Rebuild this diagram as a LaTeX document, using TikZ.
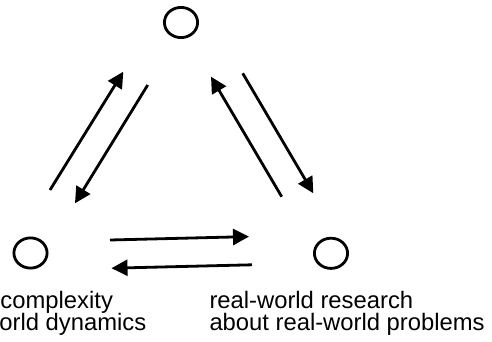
\documentclass[tikz,border=0pt]{standalone}
\usepackage{fontspec}
\setmainfont{Liberation Sans}
\usetikzlibrary{arrows.meta}
\begin{document}
\begin{tikzpicture}[x=1pt,y=-1pt,
  ringline/.style={draw=black, line width=2.8pt},
  flow/.style={draw=black, line width=2.8pt, -{Triangle[length=16pt,width=16pt]}},
  lbl/.style={anchor=base west, inner sep=0pt, font=\fontsize{23.8pt}{22pt}\selectfont}]
\useasboundingbox (0,0) rectangle (492,342);
% circles
\coordinate (top) at (181,22.5);
\coordinate (left) at (30.5,253);
\coordinate (right) at (331,253.3);
\draw[ringline] (top) ellipse [x radius=16.6pt, y radius=15.1pt];
\draw[ringline] (left) ellipse [x radius=16.6pt, y radius=15.1pt];
\draw[ringline] (right) ellipse [x radius=16.6pt, y radius=15.1pt];
% arrow end points
\coordinate (h1s) at (110,240);
\coordinate (h1e) at (249,236.6);
\coordinate (h2s) at (252,264.8);
\coordinate (h2e) at (111.5,268.2);
\coordinate (l1s) at (50,190);
\coordinate (l1e) at (123.3,71.7);
\coordinate (l2s) at (147.7,85);
\coordinate (l2e) at (75,203.3);
\coordinate (r1s) at (281.7,196.7);
\coordinate (r1e) at (211,76.7);
\coordinate (r2s) at (242.7,73.3);
\coordinate (r2e) at (313.3,193.3);
\draw[flow] (h1s) -- (h1e);
\draw[flow] (h2s) -- (h2e);
\draw[flow] (l1s) -- (l1e);
\draw[flow] (l2s) -- (l2e);
\draw[flow] (r1s) -- (r1e);
\draw[flow] (r2s) -- (r2e);
% labels
\node[lbl] (lblL1) at (0.3,308.5) {complexity};
\node[lbl] (lblL2) at (-0.8,330.5) {orld dynamics};
\node[lbl] (lblR1) at (209.3,308.5) {real-world research};
\node[lbl] (lblR2) at (209.3,330.5) {about real-world problems};
\end{tikzpicture}
\end{document}
